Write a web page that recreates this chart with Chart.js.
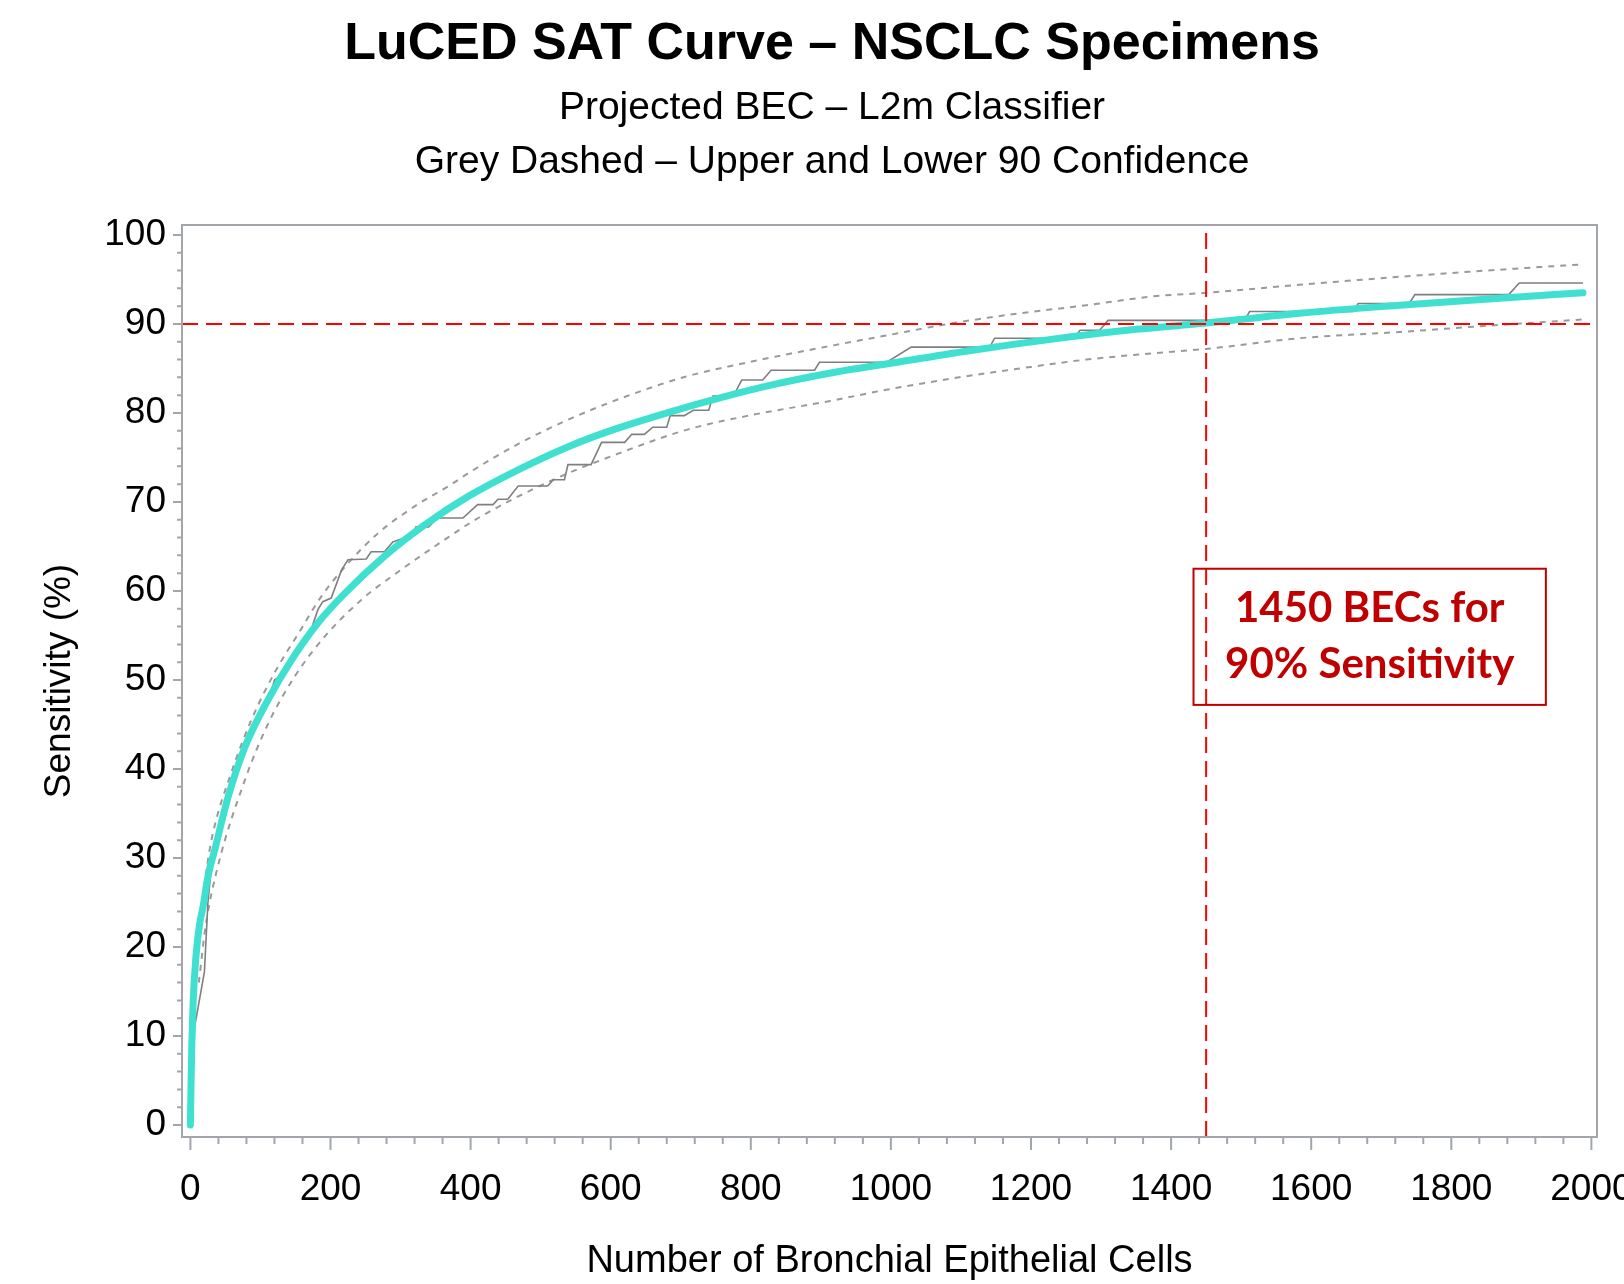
<!DOCTYPE html>
<html>
<head>
<meta charset="utf-8">
<script src="https://cdn.jsdelivr.net/npm/chart.js@4.4.1/dist/chart.umd.min.js"></script>
<style>
    html, body { margin: 0; padding: 0; background: #fff; }
    #wrap { width: 1624px; height: 1284px; overflow: hidden; }
</style>
</head>
<body>
<div id="wrap"><canvas id="satChart"></canvas></div>
<script>
// tick labels
const xTickValues = [0, 200, 400, 600, 800, 1000, 1200, 1400, 1600, 1800, 2000];
const yTickValues = [0, 10, 20, 30, 40, 50, 60, 70, 80, 90, 100];

// fitted SAT curve (teal)
const fitX = [0, 1, 2, 4, 8, 13, 18, 25, 35, 54, 78, 111, 144, 182, 220, 277, 334, 396, 470, 542, 603, 684, 756, 827, 922, 993, 1112, 1231, 1350, 1450, 1498, 1583, 1726, 1869, 1988];
const fitY = [0, 5, 9, 14, 19, 22.5, 24.5, 27.9, 31, 36.9, 42.5, 47.8, 52.2, 56.4, 59.7, 63.9, 67.4, 70.6, 73.7, 76.3, 78.1, 80.1, 81.7, 83.1, 84.6, 85.5, 87.0, 88.3, 89.4, 90.1, 90.5, 91.2, 92.1, 92.9, 93.5];

// upper 90 confidence (grey dashed)
const upperX = [8, 16, 20, 30, 58, 87, 120, 154, 187, 225, 268, 320, 373, 400, 470, 541, 613, 708, 803, 898, 993, 1089, 1184, 1279, 1374, 1450, 1583, 1726, 1869, 1988];
const upperY = [20, 24.5, 27, 32, 39.5, 45.5, 50.8, 55.2, 59.4, 63.1, 66.5, 69.5, 72.0, 73.4, 76.6, 79.3, 81.6, 84.1, 85.8, 87.3, 88.7, 90.1, 91.2, 92.1, 93.1, 93.5, 94.4, 95.3, 96.1, 96.7];

// lower 90 confidence (grey dashed)
const lowerX = [12, 22, 39, 78, 111, 149, 192, 244, 301, 358, 411, 518, 613, 708, 803, 910, 993, 1089, 1184, 1279, 1374, 1450, 1583, 1726, 1869, 1988];
const lowerY = [16, 22.5, 29, 38.8, 45.1, 50.4, 54.9, 59.0, 62.4, 65.5, 68.2, 72.5, 75.5, 78.1, 79.8, 81.3, 82.6, 83.9, 85.0, 86.0, 86.7, 87.2, 88.4, 89.1, 89.9, 90.5];

// observed step curve (grey solid)
const stepX = [0, 3, 6, 20, 25, 30, 54, 78, 111, 120, 135, 150, 173, 182, 189, 201, 216, 225, 251, 258, 277, 289, 303, 315, 322, 340, 353, 389, 410, 432, 439, 453, 468, 510, 518, 534, 539, 572, 587, 620, 630, 648, 660, 680, 685, 705, 718, 740, 746, 775, 787, 817, 829, 891, 898, 994, 1029, 1141, 1148, 1262, 1270, 1298, 1310, 1505, 1512, 1660, 1667, 1740, 1748, 1882, 1897, 1988];
const stepY = [0, 6, 11, 17.2, 25, 29, 36.6, 42.2, 47.5, 50.0, 50.8, 52.5, 55.8, 57.9, 58.8, 59.2, 62.4, 63.5, 63.6, 64.4, 64.4, 65.5, 65.9, 66.0, 67.2, 67.2, 68.2, 68.2, 69.7, 69.7, 70.3, 70.3, 71.8, 71.8, 72.5, 72.5, 74.2, 74.2, 76.7, 76.7, 77.6, 77.6, 78.4, 78.4, 79.7, 79.7, 80.3, 80.3, 81.9, 81.9, 83.7, 83.7, 84.8, 84.8, 85.7, 85.7, 87.4, 87.4, 88.4, 88.4, 89.3, 89.3, 90.4, 90.4, 91.4, 91.4, 92.3, 92.3, 93.3, 93.3, 94.6, 94.6];

// reference lines
const targetSensitivity = 90;
const requiredCells = 1450;
const noteLines = ['1450 BECs for', '90% Sensitivity'];

// titles
const titleText = 'LuCED SAT Curve – NSCLC Specimens';
const subtitleLines = ['Projected BEC – L2m Classifier', 'Grey Dashed – Upper and Lower 90 Confidence'];

// note box, in data units
const noteBox = { x0: 1432, x1: 1935, y0: 47.2, y1: 62.5, lineY: [58.0, 51.8] };

const toPoints = (xs, ys) => xs.map((x, i) => ({ x, y: ys[i] }));

const axisGrey = '#a2a6aa';
const fontFamily = '"Liberation Sans", Arial, sans-serif';

// SAS-style titles, centred a little right of the canvas centre
const titleBlock = {
    id: 'titleBlock',
    afterDraw(chart) {
        const { ctx } = chart;
        const cx = 832;
        ctx.save();
        ctx.fillStyle = '#000';
        ctx.textAlign = 'center';
        ctx.textBaseline = 'middle';
        ctx.font = `bold 52px ${fontFamily}`;
        ctx.fillText(titleText, cx, 45);
        ctx.font = `39px ${fontFamily}`;
        ctx.fillText(subtitleLines[0], cx, 108);
        ctx.fillText(subtitleLines[1], cx, 162);
        ctx.restore();
    }
};

// frame box plus major/minor tick marks
const frameTicks = {
    id: 'frameTicks',
    afterDraw(chart) {
        const { ctx, chartArea: a, scales: { x, y } } = chart;
        ctx.save();
        ctx.strokeStyle = axisGrey;
        ctx.lineWidth = 2;
        ctx.strokeRect(a.left, a.top, a.right - a.left, a.bottom - a.top);
        ctx.beginPath();
        for (let v = 0; v <= 2000; v += 40) {
            const px = x.getPixelForValue(v);
            const len = v % 200 === 0 ? 13 : 7;
            ctx.moveTo(px, a.bottom);
            ctx.lineTo(px, a.bottom + len);
        }
        for (let v = 0; v <= 100; v += 2) {
            const py = y.getPixelForValue(v);
            const len = v % 10 === 0 ? 9 : 5;
            ctx.moveTo(a.left - len, py);
            ctx.lineTo(a.left, py);
        }
        ctx.stroke();
        ctx.restore();
    }
};

// red dashed target lines and the note box
const targetLines = {
    id: 'targetLines',
    afterDatasetsDraw(chart) {
        const { ctx, chartArea: a, scales: { x, y } } = chart;
        ctx.save();
        ctx.strokeStyle = '#ff0000';
        ctx.lineWidth = 2;
        ctx.setLineDash([16, 8]);
        const hy = y.getPixelForValue(targetSensitivity);
        const vx = x.getPixelForValue(requiredCells);
        ctx.beginPath();
        ctx.moveTo(a.left, hy);
        ctx.lineTo(a.right, hy);
        ctx.moveTo(vx, a.bottom);
        ctx.lineTo(vx, a.top);
        ctx.stroke();

        ctx.setLineDash([]);
        const bx0 = x.getPixelForValue(noteBox.x0);
        const bx1 = x.getPixelForValue(noteBox.x1);
        const by0 = y.getPixelForValue(noteBox.y1);
        const by1 = y.getPixelForValue(noteBox.y0);
        ctx.strokeStyle = '#c00000';
        ctx.lineWidth = 2;
        ctx.strokeRect(bx0, by0, bx1 - bx0, by1 - by0);

        ctx.fillStyle = '#c00000';
        ctx.font = 'bold 42px Lato, "Open Sans", sans-serif';
        ctx.textAlign = 'center';
        ctx.textBaseline = 'middle';
        noteLines.forEach((t, i) => {
            ctx.fillText(t, (bx0 + bx1) / 2, y.getPixelForValue(noteBox.lineY[i]));
        });
        ctx.restore();
    }
};

Chart.defaults.font.family = fontFamily;
Chart.defaults.color = '#000';

const ctx = document.getElementById('satChart').getContext('2d');
new Chart(ctx, {
    type: 'line',
    data: {
        datasets: [
            {
                label: 'Projected BEC',
                data: toPoints(fitX, fitY),
                borderColor: '#40e0d0',
                borderWidth: 7,
                borderCapStyle: 'round',
                pointRadius: 0,
                cubicInterpolationMode: 'monotone',
                order: 0
            },
            {
                label: 'Observed',
                data: toPoints(stepX, stepY),
                borderColor: '#7f7f7f',
                borderWidth: 1.6,
                pointRadius: 0,
                tension: 0,
                order: 1
            },
            {
                label: 'Upper 90',
                data: toPoints(upperX, upperY),
                borderColor: '#9a9a9a',
                borderWidth: 2,
                borderDash: [6, 6],
                pointRadius: 0,
                cubicInterpolationMode: 'monotone',
                order: 2
            },
            {
                label: 'Lower 90',
                data: toPoints(lowerX, lowerY),
                borderColor: '#9a9a9a',
                borderWidth: 2,
                borderDash: [6, 6],
                pointRadius: 0,
                cubicInterpolationMode: 'monotone',
                order: 2
            }
        ]
    },
    options: {
        responsive: true,
        maintainAspectRatio: false,
        animation: false,
        layout: { padding: { left: 0, right: 27, top: 225, bottom: 0 } },
        plugins: {
            legend: { display: false },
            tooltip: { enabled: false },
            title: { display: false },
            subtitle: { display: false }
        },
        scales: {
            x: {
                type: 'linear',
                min: -12,
                max: 2008,
                afterBuildTicks: s => { s.ticks = xTickValues.map(v => ({ value: v })); },
                afterFit: s => { s.height = 147; s.paddingLeft = 0; s.paddingRight = 0; },
                grid: { display: false, drawTicks: false },
                border: { display: false },
                ticks: {
                    autoSkip: false,
                    maxRotation: 0,
                    padding: 31,
                    font: { size: 37 },
                    color: '#000',
                    callback: v => String(v)
                },
                title: {
                    display: true,
                    text: 'Number of Bronchial Epithelial Cells',
                    font: { size: 38 },
                    padding: { top: 0, bottom: 0 },
                    color: '#000'
                }
            },
            y: {
                min: -1.35,
                max: 101.12,
                afterBuildTicks: s => { s.ticks = yTickValues.map(v => ({ value: v })); },
                afterFit: s => { s.width = 182; s.paddingTop = 0; s.paddingBottom = 0; },
                grid: { display: false, drawTicks: false },
                border: { display: false },
                ticks: {
                    padding: 16,
                    font: { size: 37 },
                    color: '#000',
                    callback: v => String(v)
                },
                title: {
                    display: true,
                    text: 'Sensitivity (%)',
                    font: { size: 37 },
                    padding: { top: 38, bottom: 0 },
                    color: '#000'
                }
            }
        }
    },
    plugins: [titleBlock, frameTicks, targetLines]
});
</script>
</body>
</html>
